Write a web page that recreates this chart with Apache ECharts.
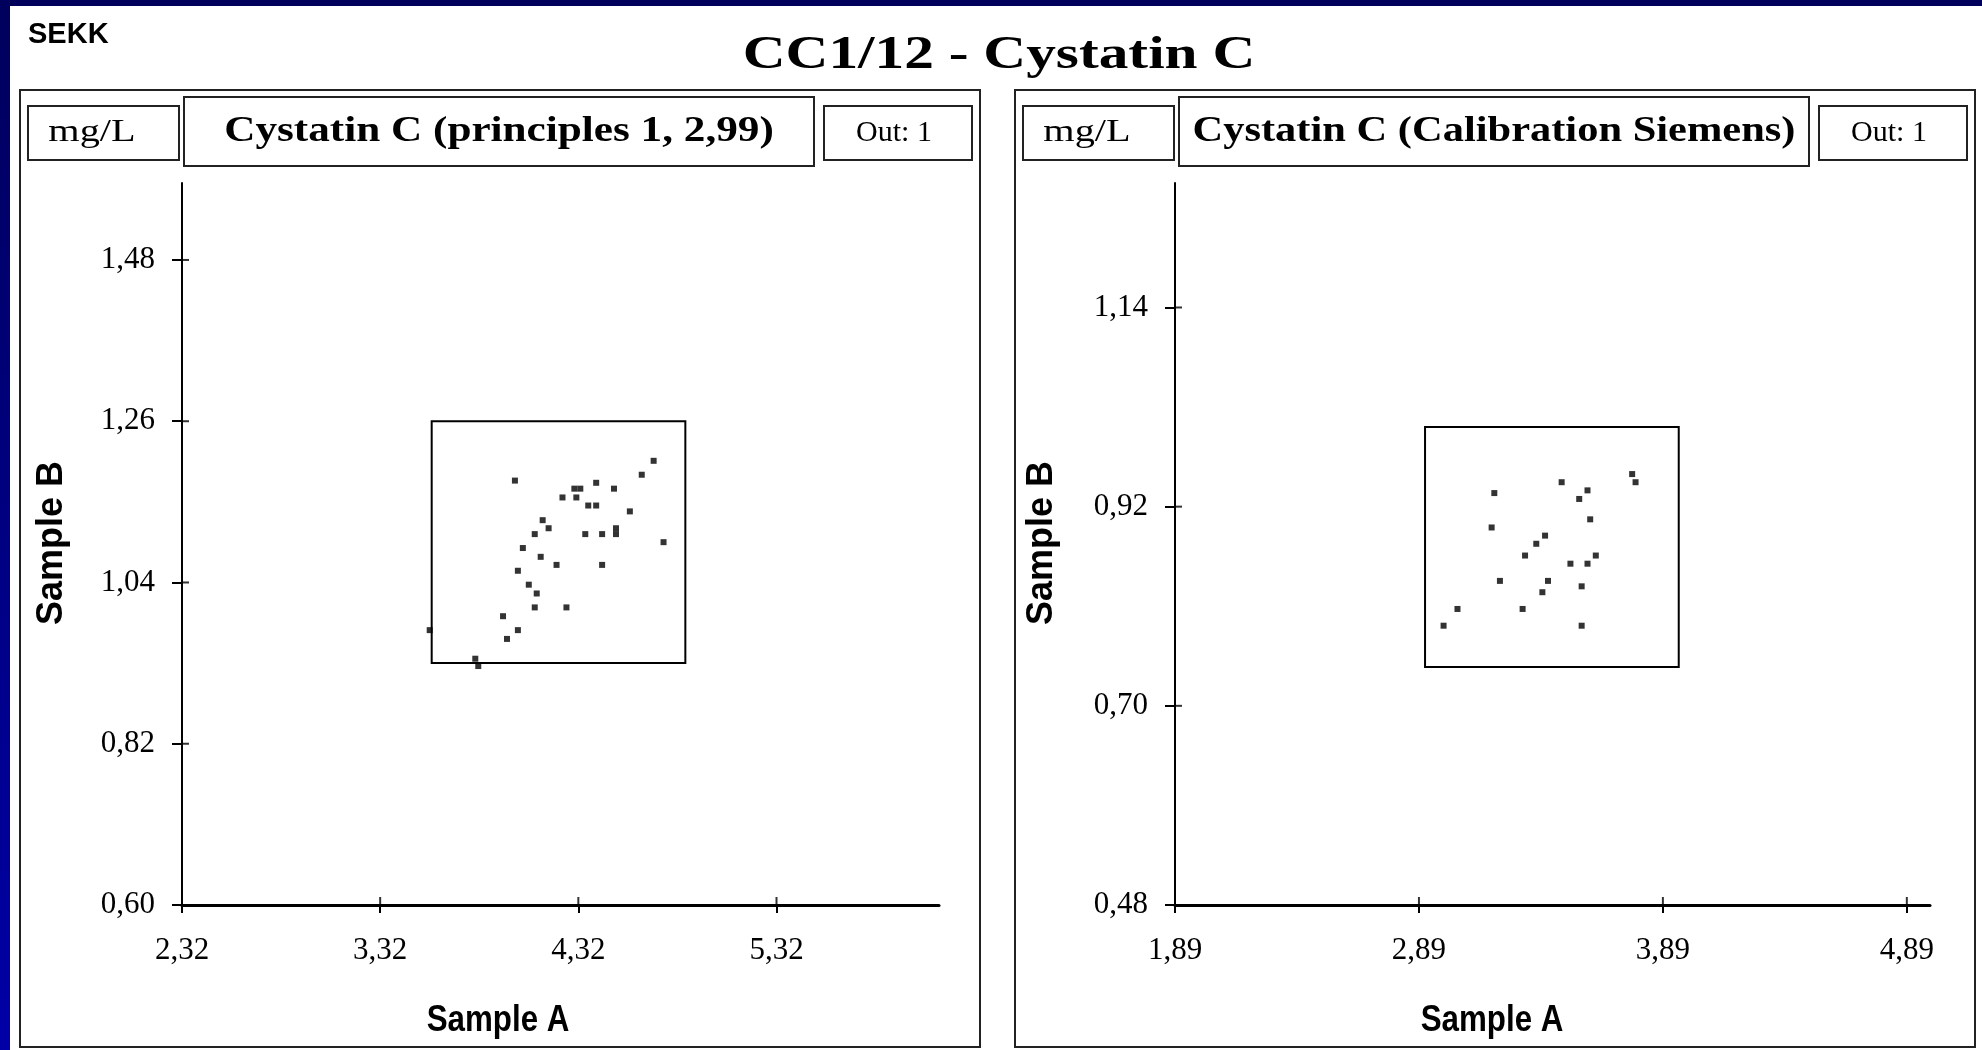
<!DOCTYPE html>
<html>
<head>
<meta charset="utf-8">
<script src="https://cdn.jsdelivr.net/npm/echarts@6/dist/echarts.min.js"></script>
<style>
html,body{margin:0;padding:0;background:#fff;}
#c{width:1982px;height:1050px;}
</style>
</head>
<body>
<div id="c"></div>
<script>
// ---- Data ----
const mainTitle = 'CC1/12 - Cystatin C';
const brand = 'SEKK';
const panelTitles = ['Cystatin C (principles 1, 2,99)', 'Cystatin C (Calibration Siemens)'];
const unitLabel = 'mg/L';
const outLabels = ['Out: 1', 'Out: 1'];
const xAxisName = 'Sample A';
const yAxisName = 'Sample B';

// Left panel: principles 1, 2,99
const leftSampleA = [4.00,4.70,4.64,4.41,4.50,4.30,4.33,4.24,4.31,4.37,4.41,4.58,4.14,4.17,4.10,4.355,4.44,4.51,4.51,4.75,4.04,4.13,4.21,4.44,4.015,4.07,4.11,4.10,4.26,3.94,4.015,3.96,3.57,3.80,3.815];
const leftSampleB = [1.179,1.206,1.187,1.176,1.168,1.168,1.168,1.156,1.156,1.145,1.145,1.137,1.125,1.114,1.106,1.106,1.106,1.114,1.106,1.095,1.087,1.075,1.064,1.064,1.056,1.037,1.025,1.006,1.006,0.994,0.975,0.963,0.975,0.936,0.926];
const leftBoxA = [3.58, 4.86];
const leftBoxB = [0.93, 1.26];
const leftXRange = [2.32, 6.14];
const leftYRange = [0.60, 1.585];
const leftXTicks = [2.32, 3.32, 4.32, 5.32];
const leftYTicks = [0.60, 0.82, 1.04, 1.26, 1.48];

// Right panel: Calibration Siemens
const rightSampleA = [3.764,3.778,3.475,3.581,3.199,3.547,3.592,3.188,3.407,3.371,3.325,3.615,3.511,3.581,3.222,3.419,3.557,3.396,3.048,3.315,2.991,3.557];
const rightSampleB = [0.956,0.947,0.947,0.938,0.935,0.9285,0.906,0.897,0.888,0.879,0.866,0.866,0.857,0.857,0.838,0.838,0.832,0.8255,0.807,0.807,0.7885,0.7885];
const rightBoxA = [2.915, 3.955];
const rightBoxB = [0.743, 1.008];
const rightXRange = [1.89, 4.985];
const rightYRange = [0.48, 1.2775];
const rightXTicks = [1.89, 2.89, 3.89, 4.89];
const rightYTicks = [0.48, 0.70, 0.92, 1.14];

// ---- Build chart ----
const SERIF = '"Liberation Serif","Times New Roman",serif';
const SANS = '"Liberation Sans",Arial,sans-serif';
const fmt = v => Number(v).toFixed(2).replace('.', ',');

const panels = [
  {a: leftSampleA, b: leftSampleB, boxA: leftBoxA, boxB: leftBoxB, xr: leftXRange, yr: leftYRange, xt: leftXTicks, yt: leftYTicks,
   grid: {left: 182, top: 183, width: 757, height: 722}, px: 20, nameX: 498, titleScale: 1.2},
  {a: rightSampleA, b: rightSampleB, boxA: rightBoxA, boxB: rightBoxB, xr: rightXRange, yr: rightYRange, xt: rightXTicks, yt: rightYTicks,
   grid: {left: 1175, top: 183, width: 755, height: 722}, px: 1015, nameX: 1492, titleScale: 1.18}
];

const grids = [], xAxes = [], yAxes = [], series = [], graphics = [];

graphics.push({type:'rect', shape:{x:0,y:0,width:1982,height:6}, style:{fill:'#00005c'}, z:0});
graphics.push({type:'rect', shape:{x:0,y:0,width:10,height:1050},
  style:{fill:new echarts.graphic.LinearGradient(0,0,0,1,[{offset:0,color:'#00005c'},{offset:1,color:'#0000a6'}])}, z:0});

graphics.push({type:'text', x:28, y:35, style:{text:brand, font:'bold 29px ' + SANS, fill:'#000', textAlign:'left', textVerticalAlign:'middle'}});
graphics.push({type:'text', x:999, y:56, scaleX:1.29, style:{text:mainTitle, font:'bold 46px ' + SERIF, fill:'#000', textAlign:'center', textVerticalAlign:'middle'}});

panels.forEach((p, i) => {
  grids.push(p.grid);
  xAxes.push({
    gridIndex: i, type: 'value', min: p.xr[0], max: p.xr[1], position: 'bottom',
    axisLine: {onZero: false, lineStyle: {color: '#000', width: 3}},
    axisTick: {show: true, customValues: p.xt, length: 8, lineStyle: {color: '#000', width: 2}},
    axisLabel: {customValues: p.xt, formatter: fmt, fontFamily: SERIF, fontSize: 31, color: '#000', margin: 30},
    splitLine: {show: false}
  });
  yAxes.push({
    gridIndex: i, type: 'value', min: p.yr[0], max: p.yr[1], position: 'left',
    axisLine: {onZero: false, lineStyle: {color: '#000', width: 2}},
    axisTick: {show: true, customValues: p.yt, length: 10, lineStyle: {color: '#000', width: 2}},
    axisLabel: {customValues: p.yt, formatter: fmt, fontFamily: SERIF, fontSize: 31, color: '#000', margin: 27},
    splitLine: {show: false}
  });
  series.push({
    type: 'scatter', xAxisIndex: i, yAxisIndex: i,
    data: p.a.map((v, k) => [v, p.b[k]]),
    symbol: 'rect', symbolSize: 6, itemStyle: {color: '#000'},
    silent: true, animation: false,
    markArea: {
      silent: true,
      itemStyle: {color: 'rgba(0,0,0,0)', borderColor: '#000', borderWidth: 2},
      data: [[{coord: [p.boxA[0], p.boxB[0]]}, {coord: [p.boxA[1], p.boxB[1]]}]]
    }
  });
  // inner half of the crossing ticks: short marker lines at the tick values
  series.push({
    type: 'scatter', xAxisIndex: i, yAxisIndex: i, silent: true, animation: false, clip: false, z: 5,
    data: p.xt.map(v => [v, p.yr[0]]),
    symbol: 'rect', symbolSize: [2, 8], symbolOffset: [0, -4], itemStyle: {color: '#000'}
  });
  series.push({
    type: 'scatter', xAxisIndex: i, yAxisIndex: i, silent: true, animation: false, clip: false, z: 5,
    data: p.yt.map(v => [p.xr[0], v]),
    symbol: 'rect', symbolSize: [7, 2], symbolOffset: [3.5, 0], itemStyle: {color: '#000'}
  });

  const px = p.px;
  graphics.push({type:'rect', shape:{x:px, y:90, width:960, height:957}, style:{fill:'none', stroke:'#222', lineWidth:2}});
  graphics.push({type:'rect', shape:{x:px+8, y:106, width:151, height:54}, style:{fill:'none', stroke:'#222', lineWidth:2}});
  graphics.push({type:'rect', shape:{x:px+164, y:97, width:630, height:69}, style:{fill:'none', stroke:'#222', lineWidth:2}});
  graphics.push({type:'rect', shape:{x:px+804, y:106, width:148, height:54}, style:{fill:'none', stroke:'#222', lineWidth:2}});
  graphics.push({type:'text', x:px+72, y:133, scaleX:1.3, style:{text:unitLabel, font:'31px ' + SERIF, fill:'#000', textAlign:'center', textVerticalAlign:'middle'}});
  graphics.push({type:'text', x:px+479, y:132, scaleX:p.titleScale, style:{text:panelTitles[i], font:'bold 36px ' + SERIF, fill:'#000', textAlign:'center', textVerticalAlign:'middle'}});
  graphics.push({type:'text', x:px+874, y:133, style:{text:outLabels[i], font:'30px ' + SERIF, fill:'#000', textAlign:'center', textVerticalAlign:'middle'}});
  graphics.push({type:'text', x:p.nameX, y:1021, scaleX:0.87, style:{text:xAxisName, font:'bold 36px ' + SANS, fill:'#000', textAlign:'center', textVerticalAlign:'middle'}});
  graphics.push({type:'text', x:px + (i === 0 ? 32 : 27), y:543, rotation:Math.PI/2, style:{text:yAxisName, font:'bold 36px ' + SANS, fill:'#000', textAlign:'center', textVerticalAlign:'middle'}});
});

const chart = echarts.init(document.getElementById('c'));
chart.setOption({
  backgroundColor: '#fff',
  animation: false,
  grid: grids,
  xAxis: xAxes,
  yAxis: yAxes,
  series: series,
  graphic: {elements: graphics}
});
</script>
</body>
</html>
